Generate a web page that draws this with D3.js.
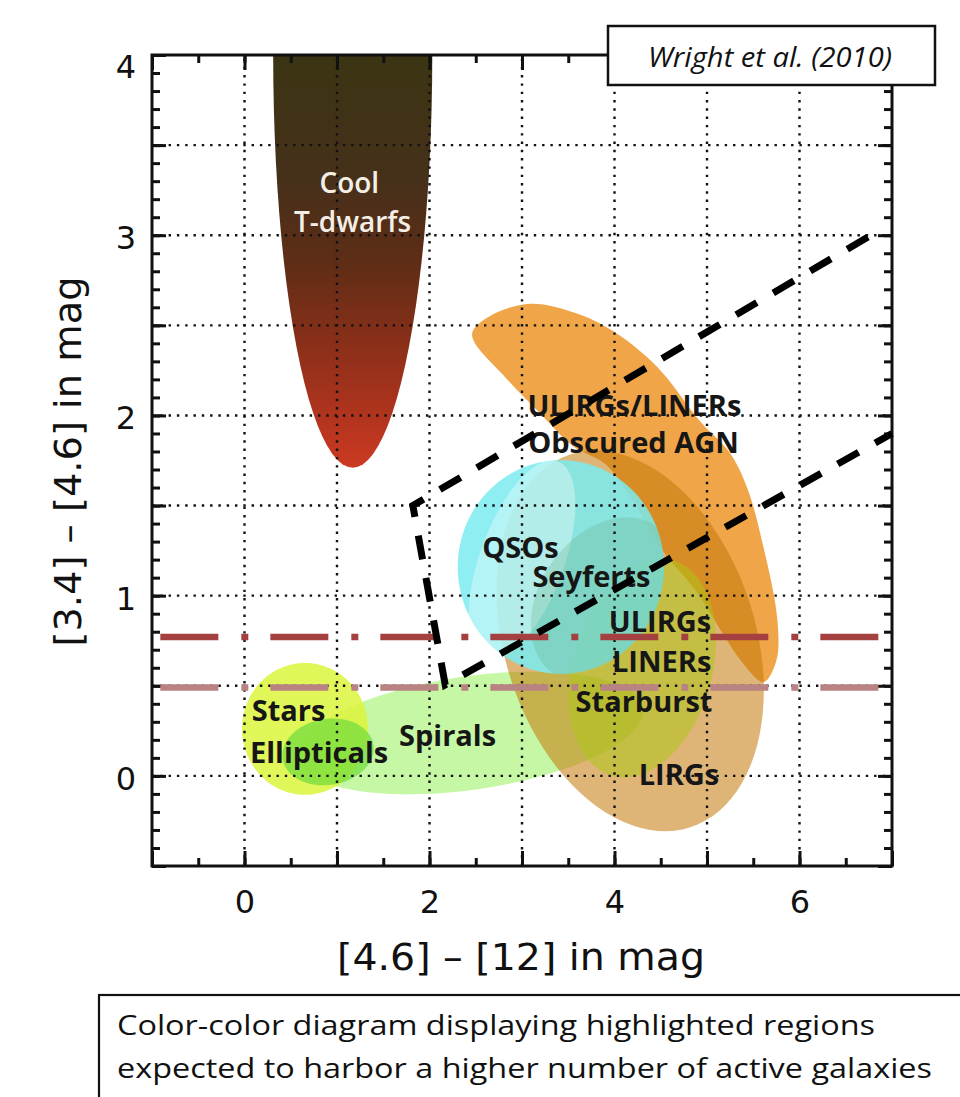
<!DOCTYPE html>
<html>
<head>
<meta charset="utf-8">
<script src="https://cdn.jsdelivr.net/npm/d3@7"></script>
<style>
  body { margin: 0; background: #fff; }
  svg { display: block; }
</style>
</head>
<body>
<script>
// axes of the colour-colour plane, in mag
const xDomain = [-1, 7];
const yDomain = [-0.5, 4];
const xTickLabels = [0, 2, 4, 6];
const yTickLabels = [0, 1, 2, 3, 4];
const xGrid = [0, 1, 2, 3, 4, 5, 6];
const yGrid = [0, 0.5, 1, 1.5, 2, 2.5, 3, 3.5];

// elliptical regions: centre, tip of one semi-axis, tip of the other semi-axis
const tDwarfs     = [[1.17, 4.0], [2.03, 4.0], [1.17, 1.71]];
const spirals     = [[2.44, 0.238], [4.31, 0.374], [2.52, -0.074]];
const lirgs       = [[4.17, 0.749], [4.82, -0.285], [2.88, 0.535]];
const starburst   = [[4.30, 0.599], [3.98, -0.001], [3.57, 0.699]];
const stars       = [[0.654, 0.261], [1.335, 0.261], [0.654, -0.105]];
const ellipticals = [[0.903, 0.133], [1.392, 0.177], [0.970, -0.047]];
const qsos        = [[3.42, 1.159], [4.535, 1.159], [3.42, 0.566]];
const qsoCore     = [[3.0, 1.198], [3.388, 1.745], [3.427, 1.118]];
const seyferts    = [[3.897, 0.976], [4.455, 1.385], [4.473, 0.769]];

// outline of the bent ULIRGs/LINERs/obscured AGN band
const obscuredAgn = [
  [2.46, 2.45], [2.65, 2.55], [3.09, 2.62], [3.57, 2.57], [3.98, 2.47],
  [4.46, 2.27], [4.92, 1.97], [5.25, 1.79], [5.44, 1.59], [5.61, 1.27],
  [5.76, 0.87], [5.75, 0.64], [5.61, 0.52], [5.38, 0.63], [5.17, 0.79],
  [4.89, 1.02], [4.52, 1.25], [4.17, 1.55], [3.90, 1.73], [3.55, 1.83],
  [3.20, 2.01], [2.84, 2.20]
];

// region names and where they are written
const labelText = ["Cool", "T-dwarfs", "ULIRGs/LINERs", "Obscured AGN", "QSOs", "Seyferts",
                   "ULIRGs", "LINERs", "Starburst", "LIRGs", "Spirals", "Stars", "Ellipticals"];
const labelX = [1.133, 1.168, 4.216, 4.205, 2.984, 3.751, 4.492, 4.51, 4.319, 4.697, 2.195, 0.078, 0.059];
const labelY = [3.232, 3.019, 1.997, 1.791, 1.209, 1.050, 0.800, 0.578, 0.357, -0.05, 0.166, 0.307, 0.070];

// [3.4]-[4.6] cuts and the AGN wedge drawn over the figure
const cutValues = [0.77, 0.49];
const cutSpan = [-0.91, 6.86];
const wedgeX = [6.74, 1.82, 2.17, 7.0];
const wedgeY = [2.99, 1.50, 0.505, 1.90];

const citation = "Wright et al. (2010)";
const caption = ["Color-color diagram displaying highlighted regions",
                 "expected to harbor a higher number of active galaxies"];

const svg = d3.select("body").append("svg")
  .attr("width", 960)
  .attr("height", 1097);

const x = d3.scaleLinear().domain(xDomain).range([152, 892]);
const y = d3.scaleLinear().domain(yDomain).range([866, 55]);

const defs = svg.append("defs");
defs.append("clipPath").attr("id", "plotClip")
  .append("rect")
  .attr("x", x(xDomain[0])).attr("y", y(yDomain[1]))
  .attr("width", x(xDomain[1]) - x(xDomain[0]))
  .attr("height", y(yDomain[0]) - y(yDomain[1]));

const grad = defs.append("linearGradient")
  .attr("id", "tdGrad")
  .attr("gradientUnits", "userSpaceOnUse")
  .attr("x1", 0).attr("x2", 0)
  .attr("y1", y(tDwarfs[0][1])).attr("y2", y(tDwarfs[2][1]));
[[0, "#3b3513"], [0.3, "#46301a"], [0.5, "#5e2d16"], [0.7, "#8a2f19"], [0.88, "#b2341e"], [1, "#cc3a22"]]
  .forEach(s => grad.append("stop").attr("offset", s[0]).attr("stop-color", s[1]));

function ellipsePoints(e) {
  const [c, a, b] = e;
  return d3.range(96).map(i => {
    const t = i / 96 * 2 * Math.PI;
    return [c[0] + (a[0] - c[0]) * Math.cos(t) + (b[0] - c[0]) * Math.sin(t),
            c[1] + (a[1] - c[1]) * Math.cos(t) + (b[1] - c[1]) * Math.sin(t)];
  });
}

const closedLine = d3.line().x(d => x(d[0])).y(d => y(d[1])).curve(d3.curveLinearClosed);
const smoothLine = d3.line().x(d => x(d[0])).y(d => y(d[1])).curve(d3.curveCatmullRomClosed);

defs.append("clipPath").attr("id", "qsoClip")
  .append("path").attr("d", closedLine(ellipsePoints(qsos)));

// regions, back to front
const regions = svg.append("g").attr("clip-path", "url(#plotClip)");

function drawEllipse(e, fill, opacity, clip) {
  const p = regions.append("path")
    .attr("d", closedLine(ellipsePoints(e)))
    .attr("fill", fill)
    .attr("fill-opacity", opacity);
  if (clip) p.attr("clip-path", clip);
}

drawEllipse(tDwarfs, "url(#tdGrad)", 1);
regions.append("path")
  .attr("d", smoothLine(obscuredAgn))
  .attr("fill", "#ee9b35")
  .attr("fill-opacity", 0.9);
drawEllipse(spirals, "rgb(150,240,90)", 0.55);
drawEllipse(lirgs, "rgb(197,120,8)", 0.55);
drawEllipse(starburst, "rgb(170,200,20)", 0.5);
drawEllipse(stars, "rgb(220,245,60)", 0.85);
drawEllipse(ellipticals, "rgb(110,220,60)", 0.7);
drawEllipse(qsos, "rgb(122,235,240)", 0.85);
drawEllipse(qsoCore, "#ffffff", 0.35, "url(#qsoClip)");
drawEllipse(seyferts, "rgb(110,180,140)", 0.3, "url(#qsoClip)");

// dotted grid
const grid = svg.append("g")
  .attr("stroke", "#111")
  .attr("stroke-width", 2.4)
  .attr("stroke-dasharray", "2.4,5.9");
grid.selectAll("line.gx").data(xGrid).enter().append("line")
  .attr("x1", d => x(d)).attr("x2", d => x(d))
  .attr("y1", y(yDomain[0])).attr("y2", y(yDomain[1]));
grid.selectAll("line.gy").data(yGrid).enter().append("line")
  .attr("y1", d => y(d)).attr("y2", d => y(d))
  .attr("x1", x(xDomain[0])).attr("x2", x(xDomain[1]));

// inward ticks on all four sides
const yMinor = d3.range(-5, 41).map(i => i / 10);
const yMajor = d3.range(-1, 9).map(i => i / 2);
const xMinor = d3.range(-2, 15).map(i => i / 2);
const xMajor = d3.range(-1, 8);

function ticks(axis, tx, ty) {
  const g = svg.append("g").attr("transform", `translate(${tx},${ty})`).call(axis);
  g.select(".domain").remove();
  g.selectAll("line").attr("stroke", "#111").attr("stroke-width", 3);
  return g;
}
ticks(d3.axisLeft(y).tickValues(yMinor).tickSize(-8).tickFormat(""), x(xDomain[0]), 0);
ticks(d3.axisLeft(y).tickValues(yMajor).tickSize(-14).tickFormat(""), x(xDomain[0]), 0);
ticks(d3.axisRight(y).tickValues(yMinor).tickSize(-8).tickFormat(""), x(xDomain[1]), 0);
ticks(d3.axisRight(y).tickValues(yMajor).tickSize(-14).tickFormat(""), x(xDomain[1]), 0);
ticks(d3.axisBottom(x).tickValues(xMinor).tickSize(-8).tickFormat(""), 0, y(yDomain[0]));
ticks(d3.axisBottom(x).tickValues(xMajor).tickSize(-15).tickFormat(""), 0, y(yDomain[0]));
ticks(d3.axisTop(x).tickValues(xMinor).tickSize(-8).tickFormat(""), 0, y(yDomain[1]));
ticks(d3.axisTop(x).tickValues(xMajor).tickSize(-15).tickFormat(""), 0, y(yDomain[1]));

svg.append("rect")
  .attr("x", x(xDomain[0])).attr("y", y(yDomain[1]))
  .attr("width", x(xDomain[1]) - x(xDomain[0]))
  .attr("height", y(yDomain[0]) - y(yDomain[1]))
  .attr("fill", "none")
  .attr("stroke", "#111")
  .attr("stroke-width", 3);

// tick labels
const xLab = svg.append("g")
  .attr("transform", `translate(0,${y(yDomain[0])})`)
  .call(d3.axisBottom(x).tickValues(xTickLabels).tickSize(0).tickPadding(24).tickFormat(d3.format("d")));
xLab.select(".domain").remove();
xLab.selectAll("text").attr("font-family", "DejaVu Sans").attr("font-size", 32).attr("fill", "#111");

const yLab = svg.append("g")
  .attr("transform", `translate(${x(xDomain[0])},0)`)
  .call(d3.axisLeft(y).tickValues(yTickLabels).tickSize(0).tickPadding(16).tickFormat(d3.format("d")));
yLab.select(".domain").remove();
yLab.selectAll("text")
  .attr("font-family", "DejaVu Sans").attr("font-size", 32).attr("fill", "#111")
  .attr("dy", d => d === yDomain[1] ? "0.7em" : "0.42em");

// axis titles
svg.append("text")
  .attr("x", (x(xDomain[0]) + x(xDomain[1])) / 2 - 1)
  .attr("y", 970)
  .attr("text-anchor", "middle")
  .attr("font-family", "DejaVu Sans").attr("font-size", 38).attr("fill", "#111")
  .attr("textLength", 368).attr("lengthAdjust", "spacingAndGlyphs")
  .text("[4.6] \u2013 [12] in mag");

svg.append("text")
  .attr("transform", `translate(81,${(y(yDomain[0]) + y(yDomain[1])) / 2 + 1}) rotate(-90)`)
  .attr("text-anchor", "middle")
  .attr("font-family", "DejaVu Sans").attr("font-size", 38).attr("fill", "#111")
  .attr("textLength", 370).attr("lengthAdjust", "spacingAndGlyphs")
  .text("[3.4] \u2013 [4.6] in mag");

// region labels
const startAnchored = new Set(["Stars", "Ellipticals"]);
const whiteLabels = new Set(["Cool", "T-dwarfs"]);
svg.append("g").selectAll("text")
  .data(labelText)
  .enter().append("text")
  .attr("x", (d, i) => x(labelX[i]))
  .attr("y", (d, i) => y(labelY[i]))
  .attr("text-anchor", d => startAnchored.has(d) ? "start" : "middle")
  .attr("font-family", "Open Sans")
  .attr("font-weight", d => whiteLabels.has(d) ? 600 : 700)
  .attr("font-size", d => whiteLabels.has(d) ? 28 : 29)
  .attr("fill", d => whiteLabels.has(d) ? "#f4efe6" : "#161616")
  .text(d => d);

// dash-dot cuts at constant [3.4]-[4.6]
svg.append("g").selectAll("line")
  .data(cutValues)
  .enter().append("line")
  .attr("x1", x(cutSpan[0])).attr("x2", x(cutSpan[1]))
  .attr("y1", d => y(d)).attr("y2", d => y(d))
  .attr("stroke", (d, i) => i === 0 ? "#a54040" : "#b98383")
  .attr("stroke-width", 6.5)
  .attr("stroke-dasharray", "58,23,7,22");

// AGN wedge
svg.append("path")
  .attr("d", d3.line().x(d => x(d[0])).y(d => y(d[1]))(wedgeX.map((v, i) => [v, wedgeY[i]])))
  .attr("fill", "none")
  .attr("stroke", "#000")
  .attr("stroke-width", 7)
  .attr("stroke-dasharray", "24,19");

// citation box
svg.append("rect")
  .attr("x", 608).attr("y", 26).attr("width", 327).attr("height", 59)
  .attr("fill", "#fff").attr("stroke", "#111").attr("stroke-width", 2.5);
svg.append("text")
  .attr("x", 770).attr("y", 67)
  .attr("text-anchor", "middle")
  .attr("font-family", "Open Sans").attr("font-style", "italic").attr("font-size", 27)
  .attr("fill", "#111")
  .attr("textLength", 244).attr("lengthAdjust", "spacingAndGlyphs")
  .text(citation);

// caption box
svg.append("rect")
  .attr("x", 99).attr("y", 995).attr("width", 900).attr("height", 140)
  .attr("fill", "#fff").attr("stroke", "#111").attr("stroke-width", 2.2);
svg.append("g").selectAll("text")
  .data(caption)
  .enter().append("text")
  .attr("x", 117)
  .attr("y", (d, i) => 1035 + i * 43)
  .attr("font-family", "Open Sans").attr("font-size", 26.5).attr("fill", "#111")
  .attr("textLength", (d, i) => i === 0 ? 758 : 815)
  .attr("lengthAdjust", "spacingAndGlyphs")
  .text(d => d);
</script>
</body>
</html>
